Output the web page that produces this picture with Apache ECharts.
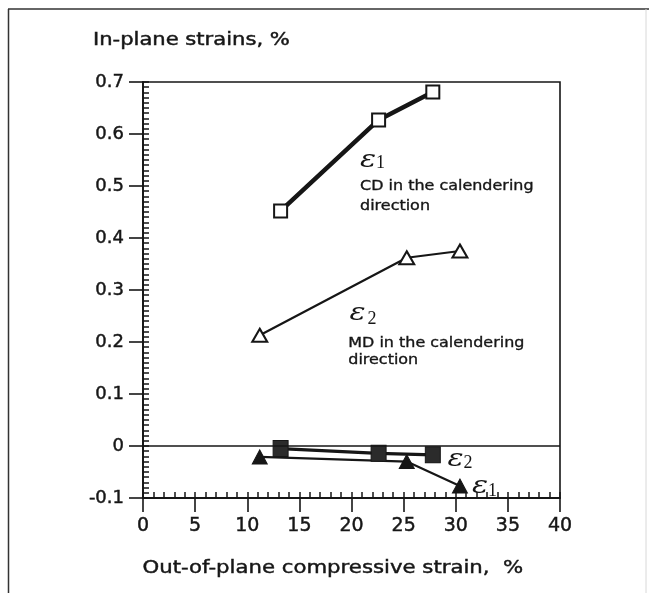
<!DOCTYPE html>
<html>
<head>
<meta charset="utf-8">
<script src="https://cdn.jsdelivr.net/npm/echarts@6/dist/echarts.min.js"></script>
<style>
  html, body { margin: 0; padding: 0; background: #fff; }
  #chart { width: 649px; height: 593px; }
</style>
</head>
<body>
<div id="chart"></div>
<script>
// In-plane strain versus out-of-plane compressive strain
const cdStrain = [13.2, 22.6, 27.8];         // out-of-plane strain, %
const cdEps1 = [0.452, 0.627, 0.681];        // ε1, CD (open squares)
const cdEps2 = [-0.005, -0.014, -0.017];     // ε2, CD (filled squares)

const mdStrain = [11.2, 25.3, 30.4];
const mdEps2 = [0.213, 0.362, 0.375];        // ε2, MD (open triangles)
const mdEps1 = [-0.021, -0.030, -0.077];     // ε1, MD (filled triangles)

const xTicks = [0, 5, 10, 15, 20, 25, 30, 35, 40];
const yTicks = [-0.1, 0, 0.1, 0.2, 0.3, 0.4, 0.5, 0.6, 0.7];

const pairs = (xs, ys) => xs.map((x, i) => [x, ys[i]]);

const SANS = 'DejaVu Sans, Liberation Sans, sans-serif';
const SERIF = 'Liberation Serif, DejaVu Serif, serif';
const INK = '#161616';
const HEAVY = 0.45;   // thin outline that gives the sans text a little more weight

const chart = echarts.init(document.getElementById('chart'), null, { renderer: 'canvas' });

const option = {
  backgroundColor: '#ffffff',
  animation: false,
  grid: {
    left: 143, right: 89, top: 82, bottom: 95,
    show: true, borderColor: INK, borderWidth: 1.6, backgroundColor: 'transparent'
  },
  xAxis: [
    {
      type: 'value', position: 'bottom',
      min: xTicks[0], max: xTicks[xTicks.length - 1], interval: 5,
      axisLine: { show: true, onZero: false, lineStyle: { color: INK, width: 1.8 } },
      axisTick: { show: true, inside: false, length: 14, lineStyle: { color: INK, width: 1.6 } },
      axisLabel: { margin: 19, fontFamily: SANS, fontSize: 19, color: INK,
                   textBorderColor: INK, textBorderWidth: HEAVY },
      splitLine: { show: false }
    },
    {
      type: 'value', position: 'bottom',
      min: xTicks[0], max: xTicks[xTicks.length - 1], interval: 1,
      axisLine: { show: false, onZero: false },
      axisTick: { show: true, inside: true, length: 6, lineStyle: { color: INK, width: 1.5 } },
      axisLabel: { show: false },
      splitLine: { show: false }
    }
  ],
  yAxis: [
    {
      type: 'value', position: 'left',
      min: yTicks[0], max: yTicks[yTicks.length - 1], interval: 0.1,
      axisLine: { show: true, onZero: false, lineStyle: { color: INK, width: 1.8 } },
      axisTick: { show: true, inside: false, length: 14, lineStyle: { color: INK, width: 1.6 } },
      axisLabel: {
        margin: 19, fontFamily: SANS, fontSize: 18, color: INK,
        textBorderColor: INK, textBorderWidth: HEAVY,
        formatter: v => (Math.abs(v) < 1e-9 ? '0' : v.toFixed(1))
      },
      splitLine: { show: false }
    },
    {
      type: 'value', position: 'left',
      min: yTicks[0], max: yTicks[yTicks.length - 1], interval: 0.01,
      axisLine: { show: false, onZero: false },
      axisTick: { show: true, inside: true, length: 6, lineStyle: { color: INK, width: 1.5 } },
      axisLabel: { show: false },
      splitLine: { show: false }
    }
  ],
  series: [
    {
      name: 'ε1 CD', type: 'line', xAxisIndex: 0, yAxisIndex: 0,
      data: pairs(cdStrain, cdEps1),
      symbol: 'rect', symbolSize: 13,
      lineStyle: { color: INK, width: 4.5 },
      itemStyle: { color: '#ffffff', borderColor: INK, borderWidth: 2 },
      z: 3,
      markLine: {
        silent: true, symbol: 'none', label: { show: false },
        lineStyle: { color: INK, width: 1.6, type: 'solid' },
        data: [{ yAxis: 0 }]
      }
    },
    {
      name: 'ε2 MD', type: 'line', xAxisIndex: 0, yAxisIndex: 0,
      data: pairs(mdStrain, mdEps2),
      symbol: 'triangle', symbolSize: [15, 13],
      lineStyle: { color: INK, width: 2.2 },
      itemStyle: { color: '#ffffff', borderColor: INK, borderWidth: 2 },
      z: 3
    },
    {
      name: 'ε1 MD', type: 'line', xAxisIndex: 0, yAxisIndex: 0,
      data: pairs(mdStrain, mdEps1),
      symbol: 'triangle', symbolSize: [15, 14],
      lineStyle: { color: INK, width: 2.2 },
      itemStyle: { color: INK, borderColor: INK, borderWidth: 1 },
      z: 3
    },
    {
      name: 'ε2 CD', type: 'line', xAxisIndex: 0, yAxisIndex: 0,
      data: pairs(cdStrain, cdEps2),
      symbol: 'rect', symbolSize: [15, 16],
      lineStyle: { color: INK, width: 3.2 },
      itemStyle: { color: '#2b2b2b', borderColor: INK, borderWidth: 1 },
      z: 4
    }
  ]
};

chart.setOption(option);

// Curve annotations, anchored in data coordinates
const epsLabels = [
  { at: [21.58, 0.548], sub: '1', subAt: [22.78, 0.5436] },
  { at: [20.58, 0.2538], sub: '2', subAt: [21.97, 0.2442] },
  { at: [29.98, -0.0269], sub: '2', subAt: [31.18, -0.0337] },
  { at: [32.33, -0.0779], sub: '1', subAt: [33.53, -0.0865] }
];
const noteLines = [
  { at: [20.82, 0.4987], text: 'CD in the calendering' },
  { at: [20.82, 0.4602], text: 'direction' },
  { at: [19.69, 0.1975], text: 'MD in the calendering' },
  { at: [19.69, 0.1654], text: 'direction' }
];

const px = (pt) => chart.convertToPixel({ xAxisIndex: 0, yAxisIndex: 0 }, pt);
const graphics = [];

epsLabels.forEach(l => {
  const p = px(l.at), q = px(l.subAt);
  graphics.push({
    type: 'text', x: p[0], y: p[1], scaleX: 1.25, z: 10,
    style: { text: 'ε', fontFamily: 'DejaVu Serif, serif', fontStyle: 'italic', fontSize: 24,
             fill: INK, align: 'center', verticalAlign: 'middle' }
  });
  graphics.push({
    type: 'text', x: q[0], y: q[1], z: 10,
    style: { text: l.sub, fontFamily: SERIF, fontSize: 18, fill: INK,
             align: 'center', verticalAlign: 'middle' }
  });
});

noteLines.forEach(n => {
  const p = px(n.at);
  graphics.push({
    type: 'text', x: p[0], y: p[1], scaleX: 1.14, z: 10,
    style: { text: n.text, fontFamily: SANS, fontSize: 14, fill: INK,
             stroke: INK, lineWidth: 0.35, align: 'left', verticalAlign: 'middle' }
  });
});

// axis titles and the figure frame
graphics.push(
  { type: 'text', x: 93, y: 41, scaleX: 1.24, z: 10,
    style: { text: 'In-plane strains, %', fontFamily: SANS, fontSize: 17, fill: INK,
             stroke: INK, lineWidth: HEAVY, align: 'left', verticalAlign: 'middle' } },
  { type: 'text', x: 142.5, y: 568.5, scaleX: 1.18, z: 10,
    style: { text: 'Out-of-plane compressive strain,  %', fontFamily: SANS, fontSize: 18, fill: INK,
             stroke: INK, lineWidth: HEAVY, align: 'left', verticalAlign: 'middle' } },
  { type: 'line', z: 1, shape: { x1: 8, y1: 9, x2: 649, y2: 9 }, style: { stroke: '#333', lineWidth: 1.5 } },
  { type: 'line', z: 1, shape: { x1: 8.5, y1: 9, x2: 8.5, y2: 593 }, style: { stroke: '#333', lineWidth: 1.5 } },
  { type: 'line', z: 1, shape: { x1: 646, y1: 9, x2: 646, y2: 593 }, style: { stroke: '#d8d8d8', lineWidth: 1 } }
);

chart.setOption({ graphic: graphics });
</script>
</body>
</html>
